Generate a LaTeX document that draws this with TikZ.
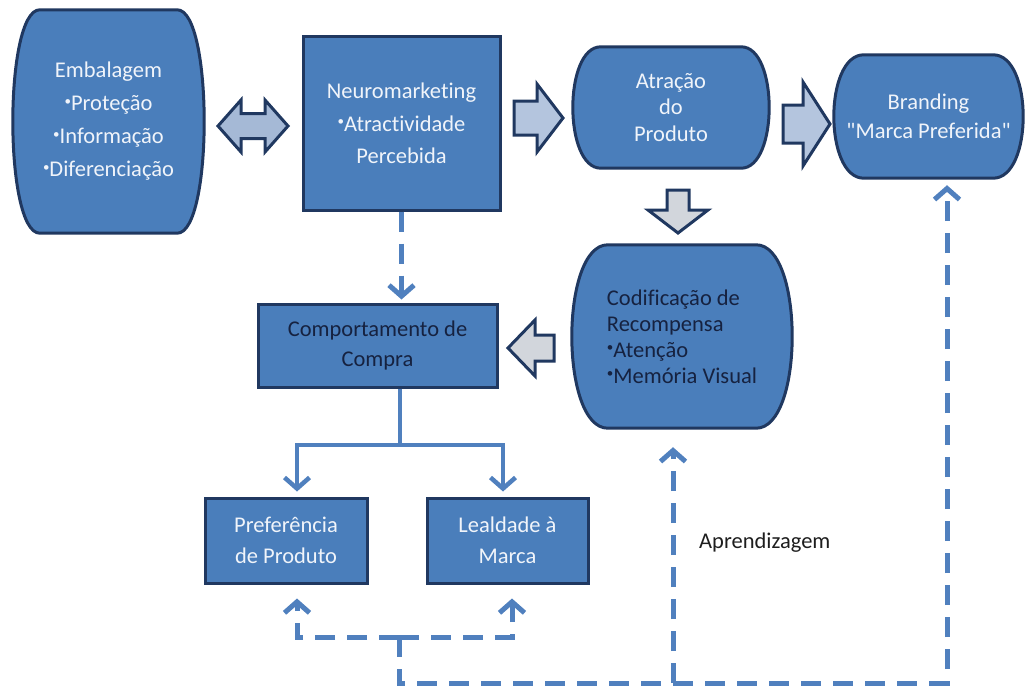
\documentclass[tikz,border=0pt]{standalone}
\usepackage{fontspec}
\setmainfont{Carlito}[Ligatures={TeXOff,NoCommon}]
\usetikzlibrary{arrows.meta,calc}

\definecolor{boxfill}{RGB}{74,126,187}
\definecolor{boxline}{RGB}{32,56,96}
\definecolor{connblue}{RGB}{80,128,190}
\definecolor{lighttext}{RGB}{240,244,250}
\definecolor{darktext}{RGB}{22,34,64}
\definecolor{labeltext}{RGB}{30,30,30}
\definecolor{dblfill}{RGB}{165,185,214}
\definecolor{rightfill}{RGB}{180,197,222}
\definecolor{greyfill}{RGB}{210,214,220}

\pgfdeclarelayer{bg}
\pgfsetlayers{bg,main}

% small raised bullet used in the lists
\newcommand\bul{{\fontsize{13}{13}\selectfont\raisebox{0.45em}{•}}}

% outline with bulging left and right sides around a node
\newcommand\barrel[2]{%
  \path[barrelstyle] let \p1=(#1.north west), \p2=(#1.south east) in
    (\x1+#2pt,\y1) -- (\x2-#2pt,\y1)
    .. controls (\x2+#2pt/3,\y1) and (\x2+#2pt/3,\y2) .. (\x2-#2pt,\y2)
    -- (\x1+#2pt,\y2)
    .. controls (\x1-#2pt/3,\y2) and (\x1-#2pt/3,\y1) .. cycle;}

\tikzset{
  barrelstyle/.style={draw=boxline, line width=3pt, fill=boxfill},
  softbox/.style={inner sep=0pt, align=center, text=lighttext},
  rectbox/.style={draw=boxline, line width=3pt, fill=boxfill, inner sep=0pt,
                  align=center, text=lighttext},
  blockarrow/.style={draw=boxline, line width=3pt, line join=miter},
  solidconn/.style={draw=connblue, line width=4.5pt},
  dashconn/.style={draw=connblue, line width=5pt, dash pattern=on 20pt off 12pt},
  tip/.style={-{Straight Barb[length=11pt,width=25pt]}},
  fs/.style={font=\fontsize{22.5}{#1}\selectfont}
}

\begin{document}
\begin{tikzpicture}[x=1pt,y=-1pt]
\useasboundingbox (0,0) rectangle (1027,693);

% boxes
\node[softbox, fs=33, minimum width=191pt, minimum height=223pt] (emb) at (108.5,121.5)
  {Embalagem\\\bul Proteção\\\bul Informação\\\bul Diferenciação};
\node[rectbox, fs=32.5, minimum width=197pt, minimum height=173pt] (neuro) at (401.5,123.5)
  {Neuromarketing\\\bul Atractividade\\Percebida};
\node[softbox, fs=26.5, minimum width=196pt, minimum height=121pt] (atr) at (671,107.5)
  {Atração\\do\\Produto};
\node[softbox, fs=29, minimum width=189pt, minimum height=123pt] (brand) at (928.5,116.5)
  {Branding\\"Marca Preferida"};
\node[softbox, fs=26, align=left, text=darktext, minimum width=220pt, minimum height=183pt] (cod) at (682,336.5)
  {Codificação de\\Recompensa\\\bul Atenção\\\bul Memória Visual};
\node[rectbox, fs=30, text=darktext, minimum width=239pt, minimum height=83pt] (comp) at (377.5,345.5)
  {Comportamento de\\Compra};
\node[rectbox, fs=31, minimum width=162pt, minimum height=85pt] (pref) at (286,540.5)
  {Preferência\\de Produto};
\node[rectbox, fs=31, minimum width=161pt, minimum height=85pt] (leal) at (507.5,540.5)
  {Lealdade à\\Marca};
\node[anchor=west, text=labeltext, fs=27, inner sep=0pt] (aprend) at (699,543) {Aprendizagem};

\begin{pgfonlayer}{bg}
  \barrel{emb}{27}
  \barrel{atr}{28}
  \barrel{brand}{30}
  \barrel{cod}{36}
\end{pgfonlayer}

% block arrows between the upper boxes
\draw[blockarrow, fill=dblfill]
  (218,126) -- (241,100) -- (241,113.5) -- (265,113.5) -- (265,100) -- (288,126)
  -- (265,152) -- (265,138.5) -- (241,138.5) -- (241,152) -- cycle;
\draw[blockarrow, fill=rightfill]
  (514,101) -- (537,101) -- (537,84) -- (563,118) -- (537,152) -- (537,135) -- (514,135) -- cycle;
\draw[blockarrow, fill=rightfill]
  (783,105) -- (803,105) -- (803,82) -- (830,124) -- (803,166) -- (803,143) -- (783,143) -- cycle;
\draw[blockarrow, fill=greyfill]
  (667,190) -- (689,190) -- (689,210) -- (708,210) -- (678,233) -- (648,210) -- (667,210) -- cycle;
\draw[blockarrow, fill=greyfill]
  (554,335) -- (535,335) -- (535,320) -- (508,348) -- (535,376) -- (535,361) -- (554,361) -- cycle;

% dashed link from neuromarketing to buying behaviour
\draw[dashconn, tip, shorten >=3pt] (neuro.south) -- (neuro.south |- comp.north);

% solid split below buying behaviour
\coordinate (split) at (400,445);
\draw[solidconn] (comp.south -| split) -- (split);
\draw[solidconn, tip, shorten >=5pt] (split) -| ([xshift=11pt]pref.north);
\draw[solidconn, tip, shorten >=5pt] (split) -| ([xshift=-4.5pt]leal.north);

% dashed feedback network
\coordinate (jT) at (399,637);
\coordinate (jR) at (947,683);
\coordinate (jA) at (673,683);
\draw[dashconn, tip, shorten >=14pt] (jT) -| ([xshift=11pt]pref.south);
\draw[dashconn, tip, shorten >=14pt] (jT) -| ([xshift=4.5pt]leal.south);
\draw[dashconn, tip, shorten >=7pt] (jT) |- (jR) -- (jR |- brand.south);
\draw[dashconn, tip, shorten >=19pt] (jA) -- (jA |- cod.south);
\end{tikzpicture}
\end{document}
